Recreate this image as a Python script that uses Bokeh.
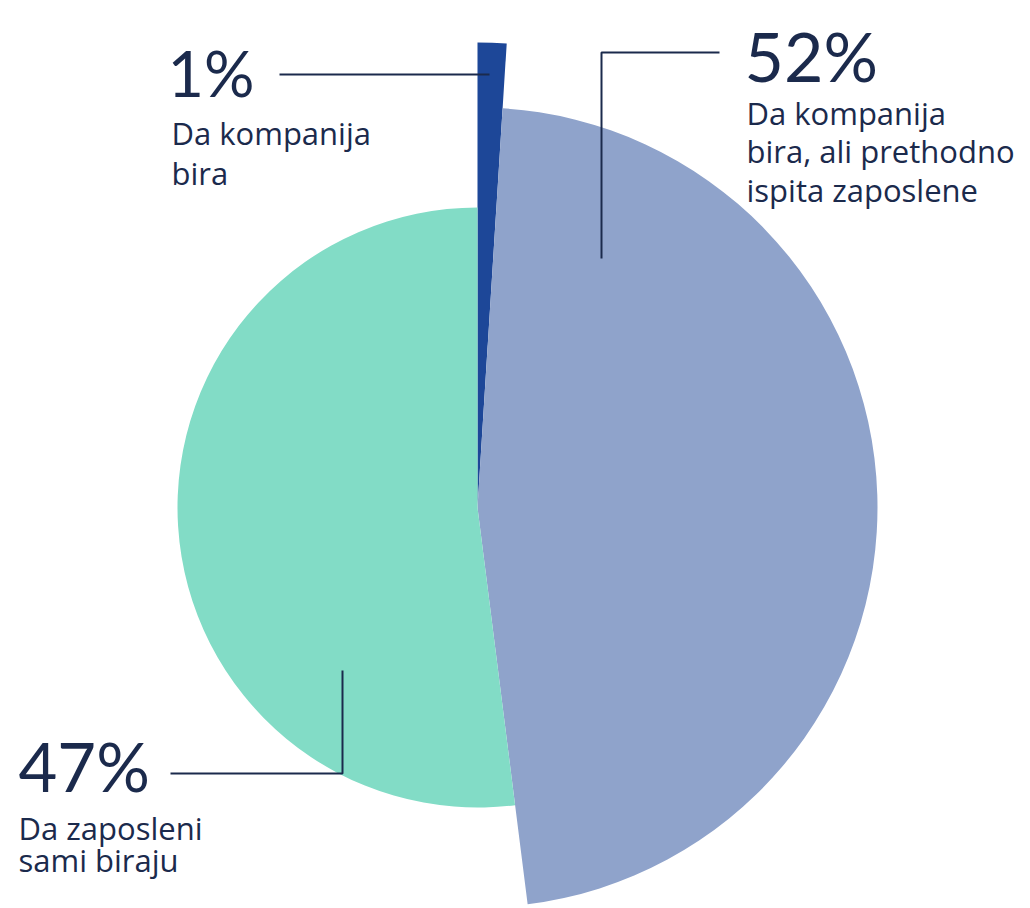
from bokeh.plotting import figure
from bokeh.models import ColumnDataSource, Range1d
from bokeh.core.properties import value
from bokeh.embed import file_html
from bokeh.resources import INLINE
import math

# ---- data ----
categories = ["Da kompanija bira",
              "Da kompanija bira, ali prethodno ispita zaposlene",
              "Da zaposleni sami biraju"]
shares = [1, 47, 52]            # angular share of each slice as drawn
pct_labels = ["1%", "52%", "47%"]  # printed labels
colors = ["#1d4798", "#8fa3cb", "#82dcc6"]
radii = [465, 400, 300]

W, H = 1030, 908
p = figure(width=W, height=H, output_backend="svg", toolbar_location=None,
           x_range=Range1d(0, W), y_range=Range1d(0, H), min_border=0)
p.axis.visible = False
p.grid.visible = False
p.outline_line_color = None
p.background_fill_color = "white"

cx, cy = 477, 401
starts, ends = [], []
cum = 0
for s in shares:
    starts.append(math.radians(90 - cum * 3.6))
    cum += s
    ends.append(math.radians(90 - cum * 3.6))

src = ColumnDataSource(dict(x=[cx] * 3, y=[cy] * 3, r=radii, start=starts,
                            end=ends, color=colors, cat=categories))
p.wedge(x="x", y="y", radius="r", start_angle="start", end_angle="end",
        direction="clock", fill_color="color", line_color=None, source=src)

navy = "#1b2a4c"
big = value("Lato")
small = value("Open Sans")

# leader lines
p.line([279, 489], [834, 834], line_color=navy, line_width=2)
p.line([719, 601, 601], [856, 856, 650], line_color=navy, line_width=2)
p.line([170, 342, 342], [135, 135, 238], line_color=navy, line_width=2)

def label(x, y, txt, size, font):
    # compensate observed baseline offset of the svg text renderer
    y = y + 0.39 * size
    p.text(x=[x], y=[y], text=[txt], text_font=font, text_font_size=f"{size}px",
           text_color=navy, text_baseline="alphabetic", text_align="left")

label(167, 811, pct_labels[0], 63, big)
label(171, 763, "Da kompanija", 31, small)
label(171, 723, "bira", 31, small)

label(744, 826, pct_labels[1], 68, big)
label(746, 783, "Da kompanija", 31, small)
label(746, 745, "bira, ali prethodno", 31, small)
label(746, 706, "ispita zaposlene", 31, small)

label(18, 116, pct_labels[2], 67, big)
label(18, 68, "Da zaposleni", 31, small)
label(18, 36, "sami biraju", 31, small)

open("out.html", "w").write(file_html(p, INLINE))
